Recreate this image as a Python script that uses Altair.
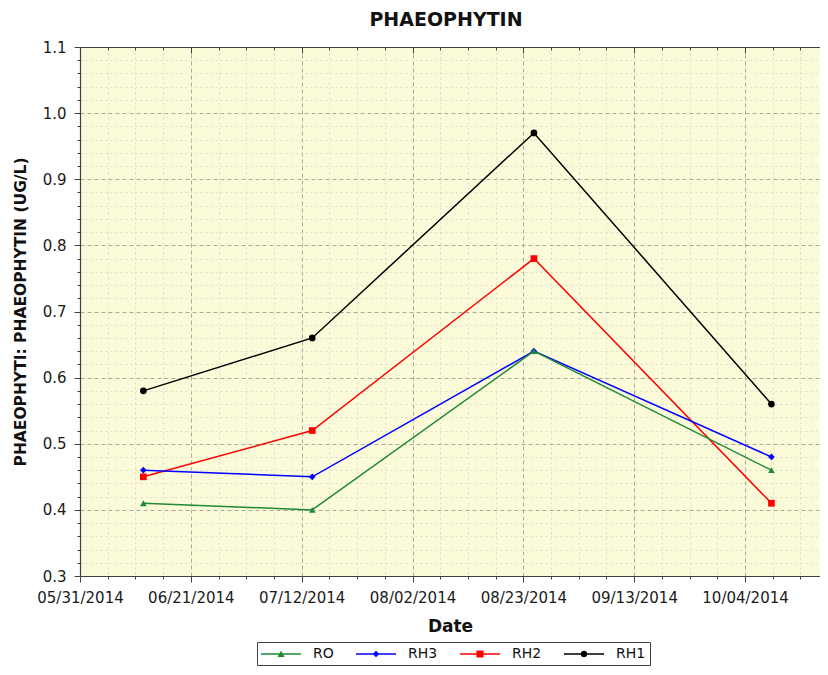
import altair as alt
import pandas as pd

# ---- data ----
dates = ["2014-06-12", "2014-07-14", "2014-08-25", "2014-10-09"]
rh1 = [0.58, 0.66, 0.97, 0.56]
rh2 = [0.45, 0.52, 0.78, 0.41]
rh3 = [0.46, 0.45, 0.64, 0.48]
ro = [0.41, 0.40, 0.64, 0.46]

legend_order = ["RO", "RH3", "RH2", "RH1"]
series_colors = ["#1e8a34", "#0000ff", "#ff0000", "#000000"]
marker_shapes = ["triangle-up", "diamond", "square", "circle"]

x_major_labels = ["05/31/2014", "06/21/2014", "07/12/2014", "08/02/2014",
                  "08/23/2014", "09/13/2014", "10/04/2014"]
y_major = [0.3, 0.4, 0.5, 0.6, 0.7, 0.8, 0.9, 1.0, 1.1]

# ---- build table (draw order: RH1 first, RO last) ----
rows = []
for name, vals in [("RH1", rh1), ("RH2", rh2), ("RH3", rh3), ("RO", ro)]:
    for d, v in zip(dates, vals):
        rows.append({"date": d, "value": v, "series": name})
df = pd.DataFrame(rows)

DAY = 86400000
t0 = int(pd.Timestamp("2014-05-31").value // 10**6)
t_end = t0 + int(140.2 * DAY)
minor_step = int(5.25 * DAY)
x_tick_values = [t0 + i * minor_step for i in range(int((t_end - t0) / minor_step) + 1)]
y_tick_values = [round(0.30 + 0.02 * i, 2) for i in range(41)]

W, H = 740, 529
LABEL_FONT = "DejaVu Sans"
LABEL_SIZE = 15

x_major_test = f"(datum.value - {t0}) % {21 * DAY} == 0"
y_major_test = "abs(datum.value*10 - round(datum.value*10)) < 0.001"

xscale = alt.Scale(type="utc", domain=[t0, t_end], nice=False)
yscale = alt.Scale(domain=[0.3, 1.1], nice=False, zero=False)

x_axis = alt.Axis(
    values=x_tick_values,
    labelExpr=f"{x_major_test} ? utcFormat(datum.value, '%m/%d/%Y') : ''",
    labelOverlap=False, labelBound=False, labelFlush=False,
    labelFont=LABEL_FONT, labelFontSize=LABEL_SIZE, labelColor="#1a1a1a",
    labelPadding=8,
    tickSize={"condition": {"test": x_major_test, "value": 6}, "value": 3},
    tickColor="#404040", domainColor="#404040", domainWidth=1.2,
    gridColor={"condition": {"test": x_major_test, "value": "#aaa99a"}, "value": "#dcdccb"},
    gridDash={"condition": {"test": x_major_test, "value": [4, 3]}, "value": [2, 3]},
    title="Date", titleFont=LABEL_FONT, titleFontWeight="bold", titleColor="#111111",
    titleFontSize=17, titlePadding=13,
)

x_axis_top = alt.Axis(
    values=x_tick_values, orient="bottom", offset=-H,
    labels=False, grid=False, title=None,
    tickColor="#404040", domainColor="#404040", domainWidth=1.2,
    tickSize={"condition": {"test": x_major_test, "value": 6}, "value": 3},
)

y_axis = alt.Axis(
    values=y_tick_values,
    labelExpr=f"{y_major_test} ? format(datum.value, '.1f') : ''",
    labelOverlap=False, labelBound=False, labelFlush=False,
    labelFont=LABEL_FONT, labelFontSize=LABEL_SIZE, labelColor="#1a1a1a",
    labelPadding=8,
    tickSize={"condition": {"test": y_major_test, "value": 6}, "value": 3},
    tickColor="#404040", domainColor="#404040", domainWidth=1.2,
    gridColor={"condition": {"test": y_major_test, "value": "#aaa99a"}, "value": "#dcdccb"},
    gridDash={"condition": {"test": y_major_test, "value": [4, 3]}, "value": [2, 3]},
    title="PHAEOPHYTI: PHAEOPHYTIN (UG/L)", titleFont=LABEL_FONT, titleFontWeight="bold",
    titleColor="#111111", titleFontSize=15.5, titlePadding=14,
)

color_scale = alt.Scale(domain=legend_order, range=series_colors)

base = alt.Chart(df)

lines = base.mark_line(strokeWidth=1.5).encode(
    x=alt.X("date:T", scale=xscale, axis=x_axis),
    y=alt.Y("value:Q", scale=yscale, axis=y_axis),
    color=alt.Color("series:N", scale=color_scale, legend=None),
)

points = base.mark_point(filled=True, opacity=1, size=45).encode(
    x=alt.X("date:T", scale=xscale, axis=x_axis_top),
    y=alt.Y("value:Q", scale=yscale, axis=None),
    color=alt.Color("series:N", scale=color_scale, legend=None),
    shape=alt.Shape("series:N", scale=alt.Scale(domain=legend_order, range=marker_shapes), legend=None),
)

# legend symbols: line stub + marker (unit = sqrt(size)/2 px)
line_part = "M-1,-0.09H4V0.09H-1Z"
legend_paths = [
    line_part + "M1.5,-0.42L1.95,0.36L1.05,0.36Z",
    line_part + "M1.5,-0.42L1.92,0L1.5,0.42L1.08,0Z",
    line_part + "M1.06,-0.44H1.94V0.44H1.06Z",
    line_part + "M1.92,0A0.42,0.42,0,1,1,1.08,0A0.42,0.42,0,1,1,1.92,0Z",
]

leg = alt.Legend(
    title=None, orient="none", legendX=177, legendY=595,
    direction="horizontal",
    strokeColor="#404040", fillColor="#ffffff", padding=4, cornerRadius=0,
    symbolSize=256, symbolStrokeWidth=0, symbolOpacity=1,
    labelFont=LABEL_FONT, labelFontSize=14, labelColor="#111111",
    labelOffset=36, columnPadding=22,
)

legend_layer = base.mark_point(filled=True, opacity=1, clip=True).encode(
    x=alt.value(-200), y=alt.value(-200),
    color=alt.Color("series:N", scale=color_scale, legend=leg),
    shape=alt.Shape("series:N", scale=alt.Scale(domain=legend_order, range=legend_paths), legend=leg),
)

chart = alt.layer(lines, points, legend_layer).resolve_scale(
    color="independent", shape="independent"
).resolve_axis(x="independent", y="independent").properties(
    width=W, height=H,
    background="#ffffff",
    title=alt.TitleParams("PHAEOPHYTIN", fontSize=19, font=LABEL_FONT,
                          fontWeight="bold", color="#111111", offset=10, dx=-4),
    autosize=alt.AutoSizeParams(type="none"),
    padding={"left": 72, "top": 39, "right": 0, "bottom": 92},
).configure_view(
    fill="#fbfbda", stroke=None
).configure_axis(
    gridWidth=1,
)

chart.save("out.html", embed_options={"renderer": "svg", "actions": False})
